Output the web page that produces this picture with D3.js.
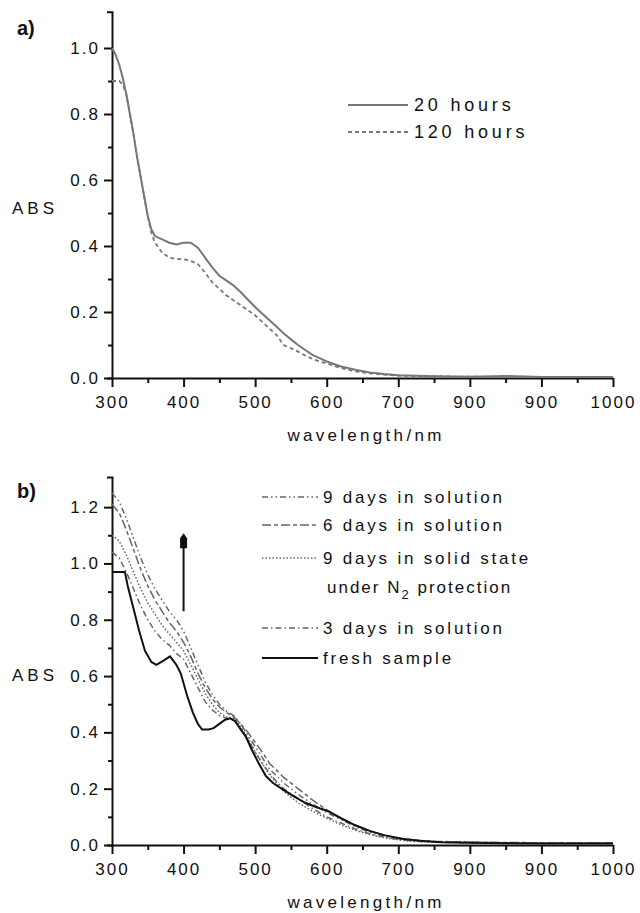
<!DOCTYPE html>
<html>
<head>
<meta charset="utf-8">
<script src="https://d3js.org/d3.v7.min.js"></script>
<style>
  body { margin: 0; background: #fff; }
  svg text { font-family: "Liberation Sans", Arial, sans-serif; fill: #111; }
  .tick text { font-size: 17px; letter-spacing: 2px; }
</style>
</head>
<body>
<div id="chart"></div>
<script>
// ---- panel a data ----
var wlA = [300,305,310,315,320,325,330,335,340,345,350,355,360,370,380,390,400,410,420,430,
           440,450,460,470,480,490,500,510,520,530,540,550,560,570,580,590,600,620,640,660,
           680,700,750,800,850,900,950,1000];
var hours20 = [1.00,0.98,0.95,0.91,0.86,0.80,0.74,0.67,0.61,0.55,0.49,0.45,0.43,0.42,0.41,0.405,0.41,0.41,0.395,0.365,
               0.335,0.31,0.295,0.28,0.26,0.237,0.215,0.195,0.175,0.155,0.135,0.117,0.10,0.085,0.07,0.06,0.05,0.035,0.025,0.017,
               0.012,0.008,0.005,0.004,0.006,0.003,0.003,0.003];
var hours120 = [0.90,0.90,0.90,0.89,0.86,0.80,0.74,0.67,0.61,0.55,0.49,0.44,0.41,0.38,0.365,0.36,0.36,0.355,0.345,0.32,
                0.29,0.27,0.25,0.235,0.22,0.205,0.19,0.17,0.15,0.13,0.10,0.09,0.08,0.068,0.058,0.05,0.044,0.03,0.02,0.014,
                0.01,0.007,0.005,0.004,0.003,0.003,0.003,0.003];

// ---- panel b data ----
var wlB = [300,310,320,330,340,350,360,370,380,390,400,410,420,430,440,450,460,470,480,490,
           500,510,520,530,540,560,580,600,620,640,660,680,700,720,750,800,850,900,950,1000];
var days9sol = [1.25,1.22,1.16,1.09,1.02,0.96,0.91,0.87,0.83,0.80,0.76,0.70,0.64,0.58,0.535,0.50,0.475,0.46,0.43,0.39,
                0.35,0.31,0.27,0.245,0.22,0.18,0.145,0.115,0.09,0.065,0.045,0.032,0.022,0.016,0.012,0.01,0.008,0.007,0.007,0.007];
var days6sol = [1.21,1.18,1.12,1.05,0.98,0.92,0.87,0.83,0.79,0.76,0.72,0.67,0.61,0.56,0.52,0.49,0.47,0.455,0.43,0.40,
                0.365,0.33,0.29,0.265,0.24,0.20,0.16,0.125,0.095,0.07,0.05,0.035,0.025,0.018,0.013,0.01,0.009,0.008,0.008,0.008];
var days9solid = [1.10,1.08,1.03,0.97,0.91,0.86,0.82,0.78,0.75,0.72,0.69,0.64,0.59,0.54,0.50,0.47,0.455,0.45,0.42,0.38,
                  0.33,0.29,0.25,0.22,0.19,0.15,0.12,0.095,0.072,0.052,0.037,0.026,0.018,0.013,0.01,0.008,0.007,0.006,0.006,0.006];
var days3sol = [1.04,1.02,0.97,0.91,0.85,0.80,0.76,0.73,0.71,0.68,0.66,0.61,0.56,0.51,0.48,0.46,0.45,0.445,0.415,0.375,
                0.33,0.29,0.255,0.225,0.20,0.165,0.13,0.10,0.078,0.057,0.04,0.028,0.02,0.014,0.01,0.008,0.007,0.006,0.006,0.006];
var wlFresh = [300,310,318,322,330,338,346,355,362,372,381,390,396,405,413,420,426,435,442,450,
               458,465,472,480,487,495,505,515,525,540,556,570,585,602,620,640,660,680,705,730,
               760,800,850,900,950,1000];
var fresh = [0.97,0.97,0.97,0.92,0.84,0.76,0.69,0.65,0.64,0.655,0.67,0.64,0.61,0.53,0.47,0.43,0.41,0.41,0.415,0.43,
             0.445,0.45,0.44,0.41,0.385,0.34,0.29,0.245,0.22,0.195,0.17,0.15,0.135,0.12,0.095,0.07,0.05,0.035,0.022,0.015,
             0.01,0.008,0.006,0.005,0.005,0.005];

var xTicks = [300,400,500,600,700,800,900,1000];
var xTickLabels = ["300","400","500","600","700","900","900","1000"];

var width = 640, height = 913;
var svg = d3.select("#chart").append("svg").attr("width", width).attr("height", height);

function drawPanel(cfg) {
  var x = d3.scaleLinear().domain([300, 1000]).range([112, 613]);
  var y = d3.scaleLinear().domain([0, cfg.ymax]).range([cfg.y0, cfg.ytop]);
  var g = svg.append("g");

  // minor ticks
  g.append("g").attr("transform", "translate(0," + cfg.y0 + ")")
    .call(d3.axisBottom(x).tickValues(d3.range(350, 1000, 100)).tickSize(5).tickFormat(""))
    .call(s => s.select(".domain").remove());
  g.append("g").attr("transform", "translate(112,0)")
    .call(d3.axisLeft(y).tickValues(cfg.minor).tickSize(4).tickFormat(""))
    .call(s => s.select(".domain").remove());

  // major axes
  g.append("g").attr("transform", "translate(0," + cfg.y0 + ")")
    .call(d3.axisBottom(x).tickValues(xTicks).tickSize(9).tickSizeOuter(0).tickPadding(9)
      .tickFormat((d, i) => xTickLabels[i]));
  g.append("g").attr("transform", "translate(112,0)")
    .call(d3.axisLeft(y).tickValues(cfg.major).tickSize(8).tickSizeOuter(5).tickPadding(4)
      .tickFormat(d3.format(".1f")));
  g.selectAll(".domain, .tick line").attr("stroke", "#111").attr("stroke-width", 2);
  g.selectAll(".tick text").attr("fill", "#111");

  // curves
  var line = d3.line().x(d => x(d[0])).y(d => y(d[1]));
  cfg.series.forEach(function(s) {
    g.append("path")
      .datum(d3.zip(s.wl, s.vals))
      .attr("fill", "none")
      .attr("stroke", s.color)
      .attr("stroke-width", s.width)
      .attr("stroke-dasharray", s.dash)
      .attr("d", line);
  });

  // axis titles
  g.append("text").attr("x", 12).attr("y", cfg.absY).attr("font-size", 17)
    .attr("letter-spacing", "4px").text("ABS");
  g.append("text").attr("x", 366).attr("y", cfg.y0 + 63).attr("font-size", 17)
    .attr("text-anchor", "middle").attr("letter-spacing", "3.3px").text("wavelength/nm");
  g.append("text").attr("x", 17).attr("y", cfg.labelY).attr("font-size", 20)
    .attr("font-weight", "bold").text(cfg.label);
  return {x: x, y: y, g: g};
}

// ---- panel a ----
var pa = drawPanel({
  y0: 378, ytop: 11.7, ymax: 1.11, label: "a)", labelY: 35, absY: 214,
  major: [0, 0.2, 0.4, 0.6, 0.8, 1.0],
  minor: [0.1, 0.3, 0.5, 0.7, 0.9],
  series: [
    {wl: wlA, vals: hours120, color: "#777", width: 1.8, dash: "4,3"},
    {wl: wlA, vals: hours20, color: "#777", width: 2, dash: null}
  ]
});

var legA = [
  {name: "20 hours", dash: null, y: 105},
  {name: "120 hours", dash: "4,3", y: 132}
];
legA.forEach(function(l) {
  pa.g.append("line").attr("x1", 348).attr("x2", 408).attr("y1", l.y).attr("y2", l.y)
    .attr("stroke", "#777").attr("stroke-width", 2).attr("stroke-dasharray", l.dash);
  pa.g.append("text").attr("x", 414).attr("y", l.y + 6).attr("font-size", 18)
    .attr("letter-spacing", "3.8px").text(l.name);
});

// ---- panel b ----
var seriesB = [
  {name: "9 days in solution", wl: wlB, vals: days9sol, color: "#666", width: 1.5, dash: "6,3,1.5,3,1.5,3"},
  {name: "6 days in solution", wl: wlB, vals: days6sol, color: "#666", width: 1.5, dash: "9,3,4,3"},
  {name: "9 days in solid state", wl: wlB, vals: days9solid, color: "#666", width: 1.5, dash: "1.5,2"},
  {name: "3 days in solution", wl: wlB, vals: days3sol, color: "#666", width: 1.5, dash: "6,3,1.5,3"},
  {name: "fresh sample", wl: wlFresh, vals: fresh, color: "#111", width: 2, dash: null}
];
var pb = drawPanel({
  y0: 845, ytop: 477, ymax: 1.307, label: "b)", labelY: 498, absY: 681,
  major: [0, 0.2, 0.4, 0.6, 0.8, 1.0, 1.2],
  minor: [0.1, 0.3, 0.5, 0.7, 0.9, 1.1],
  series: seriesB
});

var legBY = [497, 525, 558, 628, 658];
seriesB.forEach(function(s, i) {
  pb.g.append("line").attr("x1", 262).attr("x2", 318).attr("y1", legBY[i]).attr("y2", legBY[i])
    .attr("stroke", s.color).attr("stroke-width", s.width).attr("stroke-dasharray", s.dash);
  pb.g.append("text").attr("x", 323).attr("y", legBY[i] + 6).attr("font-size", 17)
    .attr("letter-spacing", "2.8px").text(s.name);
});
var sub = pb.g.append("text").attr("x", 327).attr("y", 593).attr("font-size", 17).attr("letter-spacing", "2px");
sub.append("tspan").text("under N");
sub.append("tspan").attr("dy", 6).attr("font-size", 13).text("2");
sub.append("tspan").attr("dy", -6).text(" protection");

// arrow at 400 nm
var arrowAt = {wl: 400, from: 0.83, to: 1.1};
pb.g.append("line")
  .attr("x1", pb.x(arrowAt.wl)).attr("x2", pb.x(arrowAt.wl))
  .attr("y1", pb.y(arrowAt.from)).attr("y2", pb.y(arrowAt.to) + 4)
  .attr("stroke", "#111").attr("stroke-width", 2);
var ax = pb.x(arrowAt.wl), ay = pb.y(arrowAt.to);
pb.g.append("path")
  .attr("d", "M" + ax + "," + (ay - 2) + "L" + (ax + 3.5) + "," + (ay + 3) + "L" + (ax + 3.5) + "," + (ay + 13)
    + "L" + (ax - 3.5) + "," + (ay + 13) + "L" + (ax - 3.5) + "," + (ay + 3) + "Z")
  .attr("fill", "#111");
</script>
</body>
</html>
